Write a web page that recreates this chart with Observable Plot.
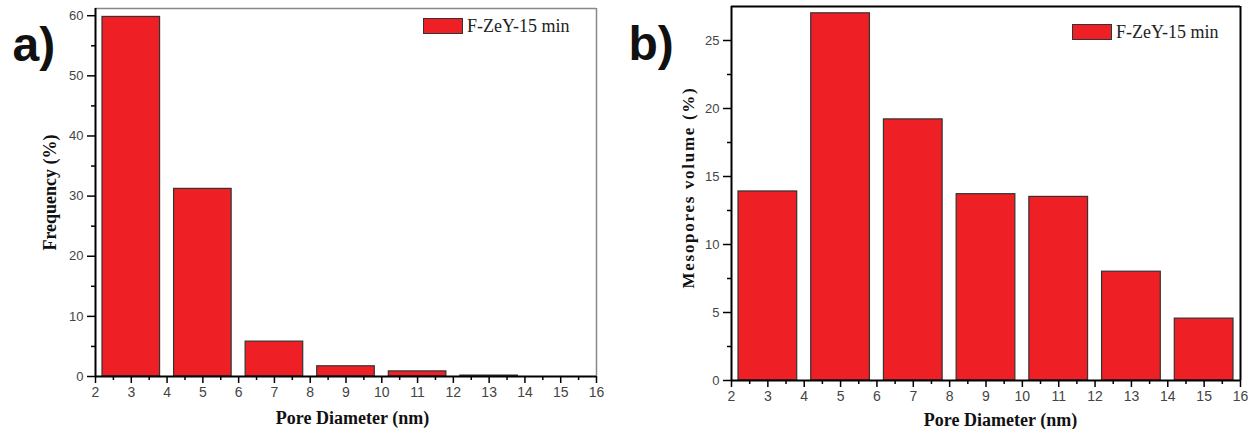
<!DOCTYPE html>
<html>
<head>
<meta charset="utf-8">
<script src="https://cdn.jsdelivr.net/npm/d3@7"></script>
<script src="https://cdn.jsdelivr.net/npm/@observablehq/plot@0.6"></script>
<style>
  body { margin: 0; background: #fff; }
  #wrap { position: relative; width: 1250px; height: 429px; display: flex; overflow: hidden; }
  #wrap svg { display: block; }
  .leg { position: absolute; display: flex; align-items: center; height: 16px;
         font-family: "Liberation Serif", serif; font-size: 18px; color: #222; white-space: nowrap; }
  .leg .sw { display: inline-block; width: 38px; height: 14px; background: #ee1f25;
             border: 1px solid #333; margin-right: 4px; }
</style>
</head>
<body>
<div id="wrap"></div>
<script>
// ---- data ----
const diameters = [3, 5, 7, 9, 11, 13, 15];           // bin centres (nm)
const binWidth = 2;
const frequency = [59.8, 31.2, 5.8, 1.7, 0.85, 0.15, 0]; // panel a (%)
const mesoVolume = [13.9, 27.0, 19.2, 13.7, 13.5, 8.0, 4.55]; // panel b (%)
const xMajorTicks = [2, 3, 4, 5, 6, 7, 8, 9, 10, 11, 12, 13, 14, 15, 16];
const xMinorTicks = [2.5, 3.5, 4.5, 5.5, 6.5, 7.5, 8.5, 9.5, 10.5, 11.5, 12.5, 13.5, 14.5, 15.5];
const freqTicks = [0, 10, 20, 30, 40, 50, 60];
const freqMinor = [5, 15, 25, 35, 45, 55];
const volTicks = [0, 5, 10, 15, 20, 25];
const volMinor = [2.5, 7.5, 12.5, 17.5, 22.5];
const seriesName = "F-ZeY-15 min";
const xTitle = "Pore Diameter (nm)";
const yTitleA = "Frequency (%)";
const yTitleB = "Mesopores volume (%)";

const barFill = "#ee1f25";
const freqData = diameters.map((d, i) => ({d, v: frequency[i]}));
const volData = diameters.map((d, i) => ({d, v: mesoVolume[i]}));

function panel({data, yMax, yTicks, yMinor, yTitle, tag, m, inset, border, borderW,
                yFont, yTitleFont, yTitleSpacing, xTitleDx, xTitleDy, yTitleDx, yTitleDy, tagDx, tagDy}) {
  const svg = Plot.plot({
    width: 625, height: 429,
    marginLeft: m[0], marginRight: m[1], marginTop: m[2], marginBottom: m[3],
    x: {domain: [2, 16], axis: null},
    y: {domain: [0, yMax], axis: null},
    style: {background: "transparent", overflow: "visible", fontFamily: "Liberation Sans"},
    marks: [
      Plot.rectY(data, {
        x1: d => d.d - binWidth / 2, x2: d => d.d + binWidth / 2, y1: 0, y2: "v",
        insetLeft: inset, insetRight: inset,
        fill: barFill, stroke: "#333", strokeWidth: 1.2
      }),
      Plot.ruleY([yMax], {stroke: border, strokeWidth: borderW}),
      Plot.ruleX([16], {stroke: border, strokeWidth: borderW}),
      Plot.ruleX([2], {stroke: "#000", strokeWidth: 2}),
      Plot.ruleY([0], {stroke: "#000", strokeWidth: 2}),
      Plot.axisX({ticks: xMajorTicks, tickSize: 7, tickPadding: 4, tickFormat: d => String(d),
                  fontSize: 14, fontFamily: "Liberation Sans", stroke: "#000", fill: "#444",
                  strokeWidth: 1.5, label: null}),
      Plot.axisX({ticks: xMinorTicks, tickSize: 4, tickFormat: () => "", stroke: "#000",
                  strokeWidth: 1.5, label: null}),
      Plot.axisY({ticks: yTicks, tickSize: 8, tickPadding: 4, tickFormat: d => String(d),
                  fontSize: yFont, fontFamily: "Liberation Sans", stroke: "#000", fill: "#444",
                  strokeWidth: 1.5, label: null}),
      Plot.axisY({ticks: yMinor, tickSize: 4, tickFormat: () => "", stroke: "#000",
                  strokeWidth: 1.5, label: null}),
      Plot.text([xTitle], {text: d => d, frameAnchor: "bottom", dx: xTitleDx, dy: xTitleDy,
                  textAnchor: "middle", lineAnchor: "middle", fontSize: 18, fontWeight: "bold",
                  fontFamily: "Liberation Serif", fill: "#111"}),
      Plot.text([yTitle], {text: d => d, frameAnchor: "left", dx: yTitleDx, dy: yTitleDy,
                  rotate: -90, textAnchor: "middle", lineAnchor: "middle", fontSize: yTitleFont,
                  fontWeight: "bold", fontFamily: "Liberation Serif", fill: "#111"}),
      Plot.text([tag], {text: d => d, frameAnchor: "top-left", dx: tagDx, dy: tagDy,
                  textAnchor: "start", lineAnchor: "top", fontSize: 48, fontWeight: "bold",
                  fontFamily: "Liberation Sans", fill: "#111"})
    ]
  });
  svg.querySelectorAll("text").forEach(t => {
    if (t.textContent === yTitle) t.style.letterSpacing = yTitleSpacing + "px";
  });
  return svg;
}

const wrap = document.getElementById("wrap");
wrap.appendChild(panel({
  data: freqData, yMax: 61.2, yTicks: freqTicks, yMinor: freqMinor, yTitle: yTitleA, tag: "a)",
  m: [95, 29, 8, 53], inset: 7, border: "#888", borderW: 1.5, yFont: 13,
  yTitleFont: 18, yTitleSpacing: 0,
  xTitleDx: 6.5, xTitleDy: 42, yTitleDx: -45, yTitleDy: 0, tagDx: -83, tagDy: 18
}));
wrap.appendChild(panel({
  data: volData, yMax: 27.5, yTicks: volTicks, yMinor: volMinor, yTitle: yTitleB, tag: "b)",
  m: [106, 10, 6, 49], inset: 7, border: "#000", borderW: 2, yFont: 13,
  yTitleFont: 17, yTitleSpacing: 1.7,
  xTitleDx: 14.5, xTitleDy: 40, yTitleDx: -43, yTitleDy: -6, tagDx: -103, tagDy: 19
}));

function legend(left, top) {
  const el = document.createElement("div");
  el.className = "leg";
  el.style.left = left + "px";
  el.style.top = top + "px";
  const sw = document.createElement("span");
  sw.className = "sw";
  const tx = document.createElement("span");
  tx.textContent = seriesName;
  el.appendChild(sw);
  el.appendChild(tx);
  wrap.appendChild(el);
}
legend(423, 18);
legend(1072, 24);
</script>
</body>
</html>
